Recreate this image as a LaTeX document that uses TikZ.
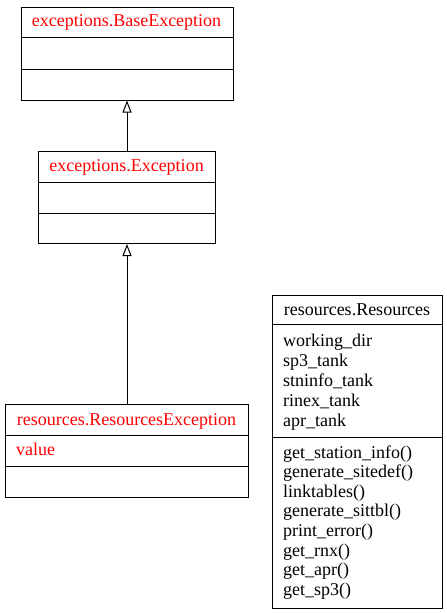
\documentclass[tikz,border=0pt]{standalone}
\usepackage{fontspec}
\setmainfont{Liberation Serif}
\usetikzlibrary{arrows.meta}
\begin{document}
\begin{tikzpicture}[x=1pt,y=-1pt,
  umlbox/.style={draw,line width=1pt,rectangle,inner sep=0pt,anchor=north west},
  title/.style={anchor=base,inner sep=0pt,font=\fontsize{18}{20}\selectfont},
  redtitle/.style={title,text=red},
  member/.style={anchor=base west,inner sep=0pt,font=\fontsize{18}{20}\selectfont},
  divider/.style={line width=1pt},
  inherit/.style={line width=1pt,-{Triangle[open,length=12pt,width=9pt]}}]
\useasboundingbox (0,0) rectangle (447,613);
% BaseException
\node[umlbox,minimum width=212pt,minimum height=93pt] (base) at (20.5,6.5) {};
\draw[divider] (20.5,37.5) -- (232.5,37.5);
\draw[divider] (20.5,69) -- (232.5,69);
\node[redtitle] (baset) at (126.5,27) {exceptions.BaseException};
% Exception
\node[umlbox,minimum width=177pt,minimum height=92pt] (exc) at (38,151) {};
\draw[divider] (38,182) -- (215,182);
\draw[divider] (38,213) -- (215,213);
\node[redtitle] (exct) at (126.5,171) {exceptions.Exception};
% ResourcesException
\node[umlbox,minimum width=243pt,minimum height=93pt] (rexc) at (5,404) {};
\draw[divider] (5,435) -- (248,435);
\draw[divider] (5,466) -- (248,466);
\node[redtitle] (rexct) at (126.5,425) {resources.ResourcesException};
\node[member,text=red] (val) at (16,455) {value};
% Resources
\node[umlbox,minimum width=170pt,minimum height=313pt] (res) at (272,295) {};
\draw[divider] (272,324) -- (442,324);
\draw[divider] (272,437.5) -- (442,437.5);
\node[title] (rest) at (357,315) {resources.Resources};
\node[member] (a1) at (283,346) {working\_dir};
\node[member] (a2) at (283,366) {sp3\_tank};
\node[member] (a3) at (283,386) {stninfo\_tank};
\node[member] (a4) at (283,406) {rinex\_tank};
\node[member] (a5) at (283,426) {apr\_tank};
\node[member] (m1) at (283,458) {get\_station\_info()};
\node[member] (m2) at (283,477.6) {generate\_sitedef()};
\node[member] (m3) at (283,497.2) {linktables()};
\node[member] (m4) at (283,516.8) {generate\_sittbl()};
\node[member] (m5) at (283,536.4) {print\_error()};
\node[member] (m6) at (283,556) {get\_rnx()};
\node[member] (m7) at (283,575.6) {get\_apr()};
\node[member] (m8) at (283,595.2) {get\_sp3()};
% inheritance
\draw[inherit] (exc.north) -- (base.south);
\draw[inherit] (rexc.north) -- (exc.south);
\end{tikzpicture}
\end{document}
